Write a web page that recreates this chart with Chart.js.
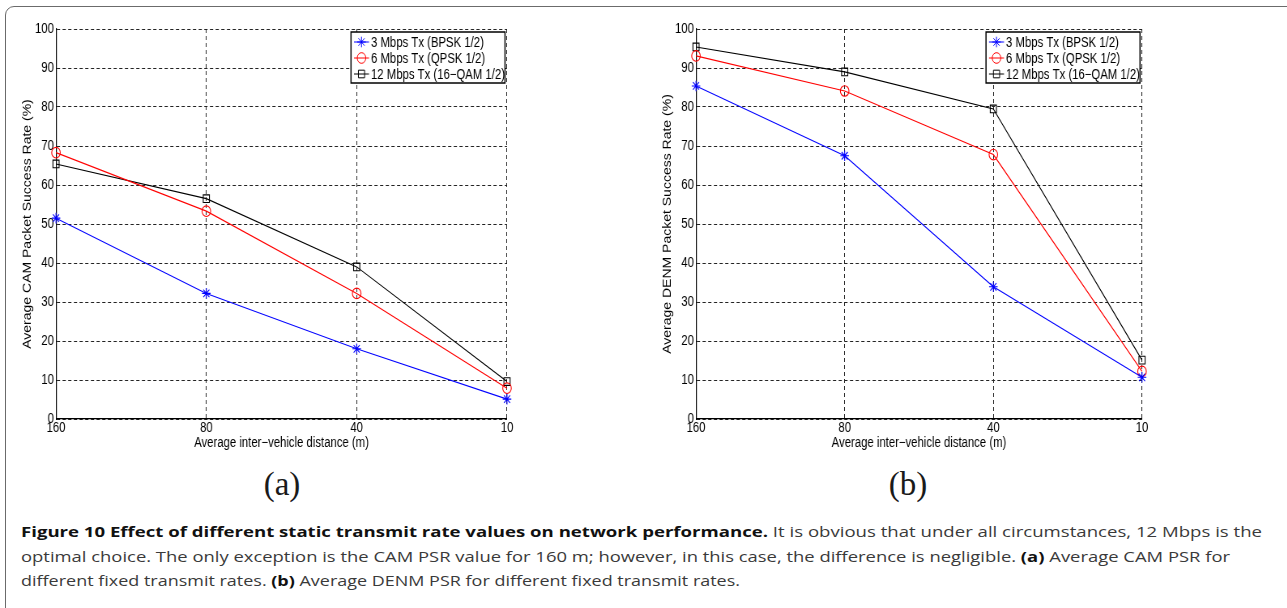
<!DOCTYPE html>
<html>
<head>
<meta charset="utf-8">
<script src="https://cdn.jsdelivr.net/npm/chart.js@4"></script>
<style>
  body { margin: 0; background: #fff; width: 1287px; height: 608px; overflow: hidden; position: relative; }
  .frame { position: absolute; left: 5px; top: 6px; width: 1400px; height: 700px;
           border: 1.5px solid #6b6b6b; border-top-left-radius: 9px; }
  canvas { position: absolute; top: 0; transform-origin: left top; }
  .sub { position: absolute; font-family: 'Liberation Serif', serif; font-size: 33px; color: #1a1a1a;
         transform: translateX(-50%); top: 466px; }
  .cap { position: absolute; left: 21px; white-space: nowrap; font-family: 'Open Sans', sans-serif;
         font-size: 15px; color: #3a3a3a; transform-origin: left center; line-height: 20px; }
  .cap b { color: #111; }
</style>
</head>
<body>
<div class="frame"></div>
<canvas id="camChart" height="460" style="left:0px"></canvas>
<canvas id="denmChart" height="460" style="left:640px"></canvas>
<div class="sub" style="left:282px">(a)</div>
<div class="sub" style="left:908px">(b)</div>
<div class="cap" data-w="1241" style="top:521px"><b>Figure 10 Effect of different static transmit rate values on network performance.</b> It is obvious that under all circumstances, 12 Mbps is the</div>
<div class="cap" data-w="1209" style="top:546px">optimal choice. The only exception is the CAM PSR value for 160 m; however, in this case, the difference is negligible. <b>(a)</b> Average CAM PSR for</div>
<div class="cap" data-w="719" style="top:570px">different fixed transmit rates. <b>(b)</b> Average DENM PSR for different fixed transmit rates.</div>
<script>
// Chart data
const distanceLabels = ['160', '80', '40', '10'];
const seriesNames = ['3 Mbps Tx (BPSK 1/2)', '6 Mbps Tx (QPSK 1/2)', '12 Mbps Tx (16\u2212QAM 1/2)'];
const seriesColors = ['#0000ff', '#ff0000', '#000000'];
const seriesMarkers = ['star', 'circle', 'rect'];

const camRate3 = [51.5, 32.2, 18.0, 5.1];
const camRate6 = [68.3, 53.3, 32.2, 7.9];
const camRate12 = [65.4, 56.5, 39.0, 9.6];

const denmRate3 = [85.4, 67.5, 33.9, 10.7];
const denmRate6 = [93.1, 84.1, 67.8, 12.2];
const denmRate12 = [95.4, 89.0, 79.5, 15.1];

// The original figure is squeezed sideways, so each chart is drawn wider and scaled back
const X_SQUEEZE = 0.81;
const lx = v => v / X_SQUEEZE;
const AXIS_FONT = { family: "'Liberation Sans', Arial, sans-serif", size: 14 };

// Legend drawn as a boxed list inside the top-right of the plot (matlab style)
const boxLegend = {
    id: 'boxLegend',
    afterDatasetsDraw(chart) {
        const { ctx, chartArea } = chart;
        const w = lx(154), h = 51;
        const x = chartArea.right - w - lx(2), y = chartArea.top + 3;
        ctx.save();
        ctx.fillStyle = '#fff';
        ctx.fillRect(x, y, w, h);
        ctx.strokeStyle = '#000';
        ctx.lineWidth = 1.5;
        ctx.strokeRect(x, y, w, h);
        chart.data.datasets.forEach((ds, i) => {
            const cy = y + 10 + i * 16;
            ctx.strokeStyle = ds.borderColor;
            ctx.lineWidth = 1;
            ctx.beginPath();
            ctx.moveTo(x + lx(3), cy);
            ctx.lineTo(x + lx(18), cy);
            ctx.stroke();
            ctx.fillStyle = 'rgba(0,0,0,0)';
            Chart.helpers.drawPoint(ctx, { pointStyle: ds.pointStyle, radius: ds.pointRadius, borderWidth: 1, rotation: 0 }, x + lx(10.5), cy);
            ctx.fillStyle = '#000';
            ctx.font = AXIS_FONT.size + 'px ' + AXIS_FONT.family;
            ctx.textBaseline = 'middle';
            ctx.fillText(ds.label, x + lx(20), cy + 1);
        });
        ctx.restore();
    }
};

function makeDatasets(values) {
    return values.map((v, i) => ({
        label: seriesNames[i],
        data: v,
        borderColor: seriesColors[i],
        backgroundColor: 'rgba(0,0,0,0)',
        borderWidth: 1.1,
        pointStyle: seriesMarkers[i],
        pointRadius: i === 2 ? 5.4 : 5.3,
        pointBorderWidth: 1.1,
        pointBorderColor: seriesColors[i],
        pointBackgroundColor: 'rgba(0,0,0,0)',
        tension: 0
    }));
}

function renderChart(canvasId, yTitle, values, plotRight) {
    const canvas = document.getElementById(canvasId);
    const width = Math.round(lx(520));
    canvas.width = width;
    canvas.style.transform = 'scaleX(' + X_SQUEEZE + ')';
    new Chart(canvas.getContext('2d'), {
        type: 'line',
        data: { labels: distanceLabels, datasets: makeDatasets(values) },
        options: {
            responsive: false,
            animation: false,
            devicePixelRatio: 1,
            layout: { padding: { top: 29, right: width - lx(plotRight), left: 0, bottom: 0 } },
            plugins: { legend: { display: false }, tooltip: { enabled: false } },
            scales: {
                x: {
                    offset: false,
                    grid: { color: '#222', lineWidth: 1, drawTicks: false, offset: false },
                    border: { display: true, color: '#000', width: 1.2, dash: [4, 3] },
                    ticks: { color: '#000', font: AXIS_FONT, padding: 1, maxRotation: 0, autoSkip: false },
                    title: { display: true, text: 'Average inter\u2212vehicle distance (m)', color: '#000', font: AXIS_FONT, padding: { top: 0, bottom: 8.6 } },
                    afterFit(scale) {
                        scale.height = 41;
                        scale.paddingLeft = 0;
                        scale.paddingRight = 0;
                    }
                },
                y: {
                    min: 0,
                    max: 100,
                    ticks: { stepSize: 10, color: '#000', font: AXIS_FONT, padding: 2.5 },
                    grid: { color: '#222', lineWidth: 1, drawTicks: false },
                    border: { display: true, color: '#000', width: 1.2, dash: [4, 3] },
                    title: { display: true, text: yTitle, color: '#000', font: AXIS_FONT, padding: { top: 26, bottom: 0 } },
                    afterFit(scale) {
                        scale.width = lx(56);
                        scale.paddingTop = 0;
                        scale.paddingBottom = 0;
                    }
                }
            }
        },
        plugins: [boxLegend]
    });
}

// Squeeze caption lines to the measured widths of the original
function fitCaptions() {
    document.querySelectorAll('.cap').forEach(el => {
        const target = parseFloat(el.dataset.w);
        const natural = el.getBoundingClientRect().width;
        el.style.transform = 'scaleX(' + (target / natural) + ')';
    });
}

renderChart('camChart', 'Average CAM Packet Success Rate (%)', [camRate3, camRate6, camRate12], 507);
renderChart('denmChart', 'Average DENM Packet Success Rate (%)', [denmRate3, denmRate6, denmRate12], 502);
fitCaptions();
</script>
</body>
</html>
